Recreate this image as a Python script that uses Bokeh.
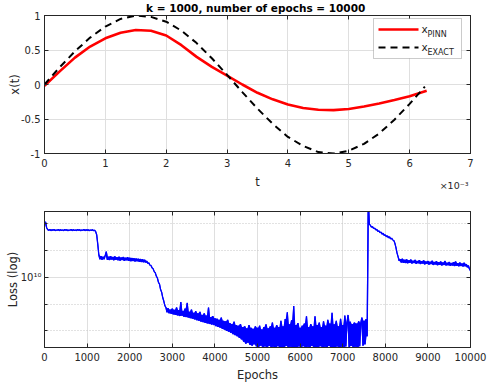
import numpy as np
from bokeh.plotting import figure
from bokeh.models import (Range1d, LinearAxis, LogAxis, FixedTicker, Label, Title,
                          BoxAnnotation, CustomJSTickFormatter)
from bokeh.layouts import column
from bokeh.embed import file_html
from bokeh.resources import INLINE

# ---------------- data ----------------
title_text = "k = 1000,  number of epochs = 10000"
t_exponent = "\u00d710\u207b\u00b3"

# time in units of 1e-3 s
t_pinn = [0, 0.25, 0.5, 0.75, 1.0, 1.25, 1.5, 1.75, 2.0, 2.25, 2.5, 2.75, 3.0,
          3.25, 3.5, 3.75, 4.0, 4.25, 4.5, 4.75, 5.0, 5.25, 5.5, 5.75, 6.0, 6.28]
x_pinn = [-0.02, 0.19, 0.39, 0.55, 0.67, 0.75, 0.79, 0.78, 0.71, 0.57, 0.40, 0.255, 0.13,
          0.0, -0.12, -0.215, -0.29, -0.34, -0.367, -0.372, -0.355, -0.32, -0.275, -0.225, -0.17, -0.09]

t_exact = [0, 0.25, 0.5, 0.75, 1.0, 1.25, 1.5, 1.75, 2.0, 2.25, 2.5, 2.75, 3.0,
           3.25, 3.5, 3.75, 4.0, 4.25, 4.5, 4.75, 5.0, 5.25, 5.5, 5.75, 6.0, 6.25]
x_exact = [0.0, 0.25, 0.48, 0.68, 0.84, 0.95, 1.00, 0.98, 0.91, 0.78, 0.60, 0.38, 0.14,
           -0.11, -0.35, -0.57, -0.76, -0.89, -0.98, -1.00, -0.96, -0.86, -0.71, -0.51, -0.28, -0.03]

t_ticks = [0, 1, 2, 3, 4, 5, 6, 7]
x_ticks = [-1, -0.5, 0, 0.5, 1]

epoch_step = 25
loss_log10 = [
    # 0 - 975
    10.200, 10.208, 10.186, 10.179, 10.176, 10.180, 10.175, 10.179, 10.176, 10.180,
    10.175, 10.178, 10.176, 10.180, 10.175, 10.179, 10.176, 10.178, 10.175, 10.180,
    10.176, 10.179, 10.175, 10.178, 10.176, 10.180, 10.175, 10.179, 10.176, 10.178,
    10.175, 10.180, 10.176, 10.179, 10.175, 10.178, 10.176, 10.180, 10.175, 10.179,
    # 1000 - 1975
    10.176, 10.179, 10.175, 10.178, 10.176, 10.179, 10.175, 10.177, 10.172, 10.160,
    10.125, 10.085, 10.068, 10.080, 10.066, 10.078, 10.068, 10.082, 10.097, 10.066,
    10.078, 10.065, 10.080, 10.067, 10.077, 10.064, 10.079, 10.066, 10.076, 10.064,
    10.078, 10.063, 10.075, 10.065, 10.077, 10.062, 10.074, 10.064, 10.076, 10.062,
    # 2000 - 2975
    10.074, 10.061, 10.073, 10.062, 10.072, 10.060, 10.071, 10.061, 10.070, 10.059,
    10.069, 10.058, 10.068, 10.057, 10.066, 10.056, 10.062, 10.052, 10.055, 10.046,
    10.045, 10.036, 10.033, 10.022, 10.018, 10.005, 9.998, 9.982, 9.975, 9.955,
    9.945, 9.925, 9.912, 9.895, 9.888, 9.870, 9.885, 9.866, 9.880, 9.864,
    # 3000 - 3975
    9.884, 9.862, 9.879, 9.860, 9.888, 9.858, 9.878, 9.856, 9.908, 9.857,
    9.875, 9.853, 9.884, 9.852, 9.905, 9.850, 9.872, 9.848, 9.880, 9.846,
    9.868, 9.843, 9.874, 9.840, 9.866, 9.838, 9.872, 9.835, 9.860, 9.833,
    9.866, 9.830, 9.858, 9.828, 9.888, 9.826, 9.852, 9.824, 9.856, 9.822,
    # 4000 - 4975
    9.848, 9.818, 9.846, 9.815, 9.842, 9.812, 9.850, 9.808, 9.838, 9.805,
    9.836, 9.800, 9.842, 9.797, 9.830, 9.793, 9.826, 9.788, 9.835, 9.784,
    9.822, 9.780, 9.820, 9.774, 9.826, 9.768, 9.815, 9.760, 9.818, 9.752,
    9.810, 9.756, 9.822, 9.748, 9.812, 9.745, 9.808, 9.750, 9.818, 9.742,
    # 5000 - 5975
    9.812, 9.740, 9.820, 9.745, 9.806, 9.738, 9.815, 9.742, 9.825, 9.736,
    9.810, 9.744, 9.818, 9.738, 9.832, 9.741, 9.812, 9.735, 9.822, 9.743,
    9.815, 9.737, 9.838, 9.740, 9.818, 9.736, 9.845, 9.744, 9.870, 9.738,
    9.825, 9.741, 9.840, 9.736, 9.893, 9.740, 9.822, 9.738, 9.830, 9.742,
    # 6000 - 6975
    9.812, 9.735, 9.820, 9.743, 9.828, 9.737, 9.855, 9.741, 9.815, 9.736,
    9.826, 9.744, 9.818, 9.738, 9.855, 9.740, 9.822, 9.736, 9.832, 9.743,
    9.815, 9.738, 9.836, 9.741, 9.820, 9.736, 9.842, 9.744, 9.828, 9.738,
    9.868, 9.740, 9.825, 9.737, 9.838, 9.742, 9.818, 9.736, 9.846, 9.741,
    # 7000 - 7975
    9.822, 9.738, 9.858, 9.742, 9.830, 9.860, 9.739, 9.835, 9.744, 9.826,
    9.738, 9.832, 9.741, 9.828, 9.737, 9.836, 9.743, 9.830, 9.850, 9.745,
    9.838, 9.750, 9.845, 9.780, 10.300, 10.200, 10.195, 10.188, 10.190, 10.183,
    10.185, 10.178, 10.180, 10.172, 10.175, 10.167, 10.170, 10.162, 10.165, 10.157,
    # 8000 - 8975
    10.160, 10.152, 10.156, 10.148, 10.152, 10.144, 10.147, 10.140, 10.138, 10.128,
    10.112, 10.092, 10.078, 10.062, 10.068, 10.056, 10.070, 10.055, 10.066, 10.054,
    10.068, 10.053, 10.064, 10.055, 10.067, 10.052, 10.063, 10.054, 10.066, 10.051,
    10.062, 10.053, 10.065, 10.050, 10.061, 10.052, 10.064, 10.049, 10.060, 10.051,
    # 9000 - 9975
    10.062, 10.048, 10.059, 10.050, 10.063, 10.047, 10.058, 10.049, 10.061, 10.046,
    10.057, 10.048, 10.060, 10.045, 10.056, 10.047, 10.062, 10.045, 10.055, 10.046,
    10.058, 10.044, 10.054, 10.045, 10.057, 10.043, 10.060, 10.044, 10.053, 10.042,
    10.056, 10.043, 10.052, 10.041, 10.055, 10.042, 10.050, 10.038, 10.045, 10.032,
    # 10000
    10.025,
]
epochs = np.arange(len(loss_log10)) * epoch_step
loss = 10.0 ** np.array(loss_log10)

epoch_ticks = [0, 1000, 2000, 3000, 4000, 5000, 6000, 7000, 8000, 9000, 10000]
loss_major = [1e10]
loss_major_label = "10\u00b9\u2070"
loss_minor = [10 ** 9.8, 10 ** 9.9, 10 ** 10.1, 10 ** 10.2]
loss_lo, loss_hi = 9.7383, 10.2467   # log10 limits of the loss axis

# ---------------- style / layout ----------------
FONT = "DejaVu Sans"
AX = "#262626"
GRID = "#dfdfdf"
W = 488
H1, H2 = 192, 193
L, R = 44, 18
FW = W - L - R
T1, B1 = 15, 39
FH1 = H1 - T1 - B1
T2, B2 = 19, 38

num_fmt = CustomJSTickFormatter(code="return tick.toString();")


def style_axis(ax, label=None, standoff=4):
    ax.axis_line_color = AX
    ax.major_tick_line_color = AX
    ax.minor_tick_line_color = AX
    ax.major_tick_in = 4
    ax.major_tick_out = 0
    ax.minor_tick_in = 0
    ax.minor_tick_out = 0
    ax.major_label_text_font = FONT
    ax.major_label_text_font_size = "10px"
    ax.major_label_text_color = AX
    ax.major_label_standoff = 5
    if label is not None:
        ax.axis_label = label
        ax.axis_label_text_font = FONT
        ax.axis_label_text_font_size = "11.5px"
        ax.axis_label_text_font_style = "normal"
        ax.axis_label_text_color = AX
        ax.axis_label_standoff = standoff


def mirror(p, ticker, loc, log=False, minor=False):
    cls = LogAxis if log else LinearAxis
    ax = cls(ticker=ticker, formatter=CustomJSTickFormatter(code="return '';"))
    style_axis(ax)
    ax.major_label_standoff = 0
    ax.major_label_text_font_size = "1px"
    if minor:
        ax.minor_tick_in = 3
    p.add_layout(ax, loc)


# ---------------- top plot ----------------
p1 = figure(width=W, height=H1, x_range=Range1d(0, 7), y_range=Range1d(-1, 1),
            output_backend="svg", toolbar_location=None,
            min_border_left=L, min_border_right=R, min_border_top=T1, min_border_bottom=B1)
p1.title.text = title_text
p1.title.align = "center"
p1.title.vertical_align = "top"
p1.title.text_font = FONT
p1.title.text_font_size = "10.5px"
p1.title.text_font_style = "bold"
p1.title.text_color = "black"
p1.title.standoff = 0
p1.outline_line_color = AX
tt = FixedTicker(ticks=t_ticks)
xt = FixedTicker(ticks=x_ticks)
p1.xaxis.ticker = tt
p1.yaxis.ticker = xt
p1.xaxis.formatter = num_fmt
p1.yaxis.formatter = num_fmt
p1.xgrid.ticker = tt
p1.ygrid.ticker = xt
style_axis(p1.xaxis[0], "t", 5)
style_axis(p1.yaxis[0], "x(t)", -4)
p1.yaxis.major_label_standoff = 4
p1.grid.grid_line_color = GRID
mirror(p1, tt, "above")
mirror(p1, xt, "right")

# the x10^-3 exponent sits in the panel below the axis, pulled up beside "t"
p1.add_layout(Title(text=t_exponent, align="right", vertical_align="top", offset=2,
                    standoff=-24, text_font=FONT, text_font_size="9.5px",
                    text_font_style="normal", text_color=AX), "below")

p1.line(t_pinn, x_pinn, line_color="#ff0000", line_width=2.6)
p1.line(t_exact, x_exact, line_color="black", line_width=2, line_dash="7 5")


# legend (drawn by hand for the subscripts): pixel offsets inside the frame -> data
def fx(dx):
    return dx / FW * 7


def fy(dy):
    return 1 - dy / FH1 * 2


p1.add_layout(BoxAnnotation(left=fx(FW - 97), right=fx(FW - 9), top=fy(3), bottom=fy(43),
                            fill_color="white", fill_alpha=1, line_color=AX, line_width=0.8))
r = p1.line([fx(FW - 92), fx(FW - 52)], [fy(14), fy(14)], line_color="#ff0000", line_width=2.6)
r.level = "overlay"
r = p1.line([fx(FW - 92), fx(FW - 52)], [fy(32), fy(32)], line_color="black", line_width=2,
            line_dash="7 5")
r.level = "overlay"
for dy, sub in [(13.5, "PINN"), (31.5, "EXACT")]:
    p1.add_layout(Label(x=fx(FW - 49), y=fy(dy), text="x", text_align="left", text_baseline="middle",
                        text_font=FONT, text_font_size="10.5px", text_color=AX))
    p1.add_layout(Label(x=fx(FW - 43), y=fy(dy + 5.5), text=sub, text_align="left",
                        text_baseline="middle", text_font=FONT, text_font_size="8px", text_color=AX))

# ---------------- bottom plot ----------------
p2 = figure(width=W, height=H2, x_range=Range1d(0, 10000),
            y_range=Range1d(10 ** loss_lo, 10 ** loss_hi),
            y_axis_type="log", output_backend="svg", toolbar_location=None,
            min_border_left=L, min_border_right=R, min_border_top=T2, min_border_bottom=B2)
p2.outline_line_color = AX
et = FixedTicker(ticks=epoch_ticks)
lt = FixedTicker(ticks=loss_major, minor_ticks=loss_minor)
p2.xaxis.ticker = et
p2.xaxis.formatter = num_fmt
p2.yaxis.ticker = lt
p2.yaxis.formatter = CustomJSTickFormatter(code="return '%s';" % loss_major_label)
p2.xgrid.ticker = et
p2.ygrid.ticker = lt
style_axis(p2.xaxis[0], "Epochs", 4)
style_axis(p2.yaxis[0], "Loss (log)", -2)
p2.yaxis.major_label_standoff = 3
p2.yaxis.minor_tick_in = 3
p2.grid.grid_line_color = GRID
p2.ygrid.minor_grid_line_color = "#c4c4c4"
p2.ygrid.minor_grid_line_dash = "1 2"
mirror(p2, et, "above")
mirror(p2, lt, "right", log=True, minor=True)

# the noisy trace: fill the span swept between consecutive samples, then the line itself
mid_epochs = (epochs[:-1] + epochs[1:]) / 2
p2.varea(x=mid_epochs, y1=np.minimum(loss[:-1], loss[1:]), y2=np.maximum(loss[:-1], loss[1:]),
         fill_color="#0000ff", fill_alpha=1)
p2.line(epochs, loss, line_color="#0000ff", line_width=1.3)

layout = column(p1, p2)

open("out.html", "w").write(file_html(layout, INLINE))
